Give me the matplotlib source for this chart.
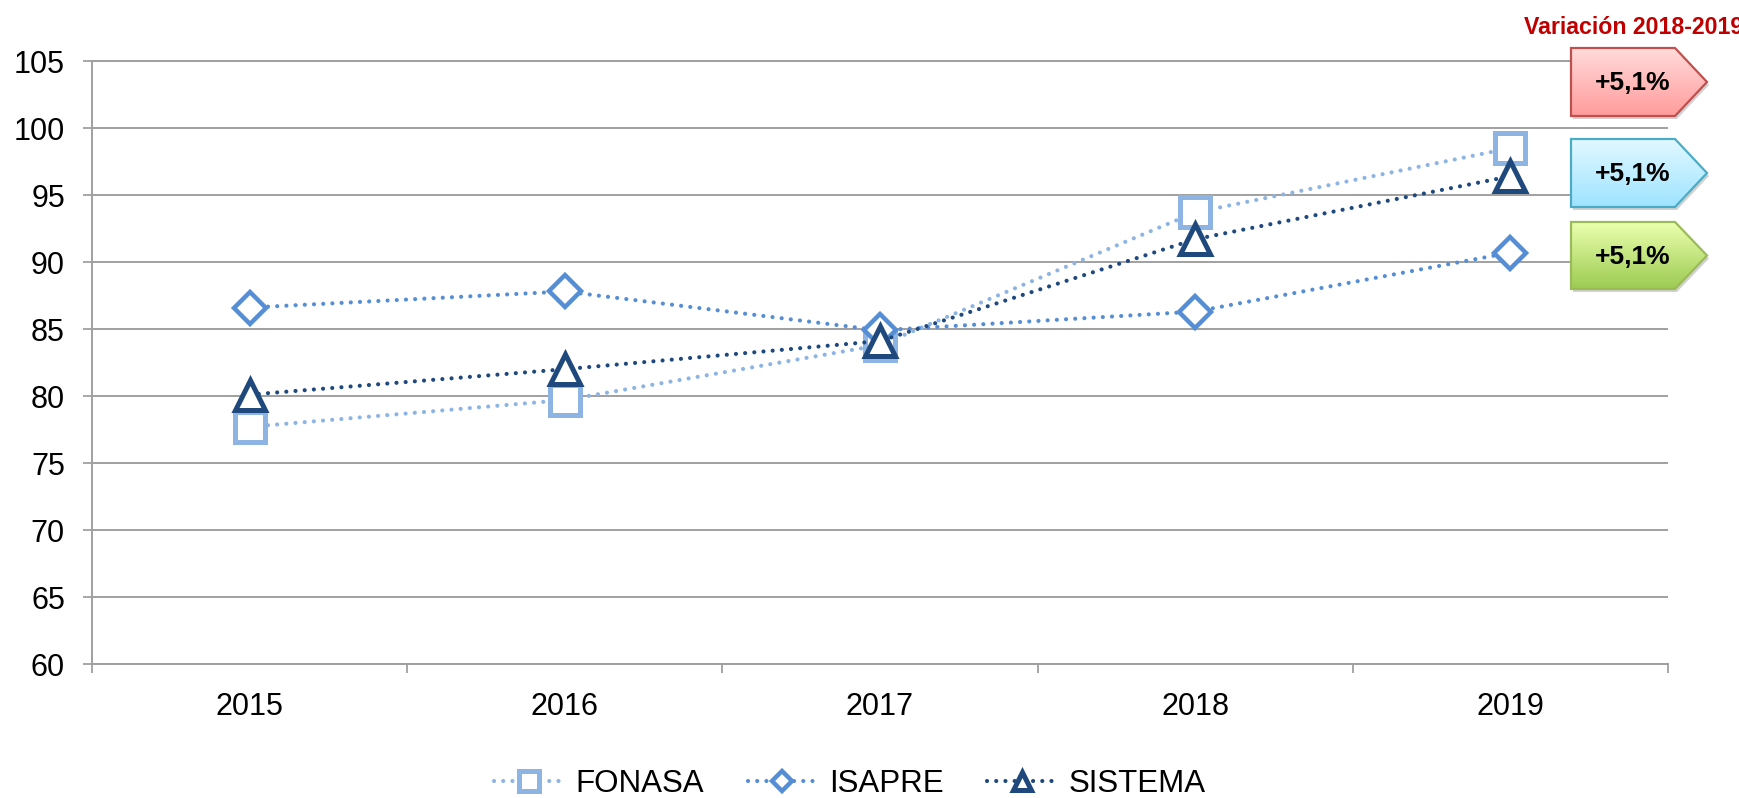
import numpy as np
import matplotlib
matplotlib.use("Agg")
import matplotlib.pyplot as plt
from matplotlib.patches import Polygon
from matplotlib.colors import to_rgb

plt.rcParams['font.family'] = ['Liberation Sans', 'DejaVu Sans']

# Datos
anios = ['2015', '2016', '2017', '2018', '2019']
fonasa = [77.7, 79.7, 83.8, 93.7, 98.5]
isapre = [86.6, 87.8, 84.9, 86.3, 90.7]
sistema = [80.1, 82.0, 84.1, 91.7, 96.4]
variacion = ['+5,1%', '+5,1%', '+5,1%']

W, H = 1740, 798
fig = plt.figure(figsize=(W / 100, H / 100), dpi=100)
ax = fig.add_axes([92 / W, 1 - 664 / H, (1668 - 92) / W, (664 - 61) / H])

x = np.arange(len(anios))
gris = '#A0A0A0'
punteado = (0, (0.01, 2.2))

ax.plot(x, fonasa, color='#8DB4E2', lw=3, linestyle=punteado,
        dash_capstyle='round', marker='s', markersize=22, mew=3.6,
        mfc='white', mec='#8DB4E2', label='FONASA', zorder=3)
ax.plot(x, isapre, color='#558ED5', lw=3, linestyle=punteado,
        dash_capstyle='round', marker='D', markersize=16, mew=3.2,
        mfc='white', mec='#558ED5', label='ISAPRE', zorder=4)
ax.plot(x, sistema, color='#1F497D', lw=3, linestyle=punteado,
        dash_capstyle='round', marker='^', markersize=21, mew=3.6,
        mfc='white', mec='#1F497D', label='SISTEMA', zorder=5)

ax.set_xlim(-0.5, len(anios) - 0.5)
ax.set_ylim(60, 105)
ax.set_yticks(np.arange(60, 106, 5))
ax.set_xticks(x)
ax.set_xticklabels(anios)
ax.set_xticks(np.arange(-0.5, len(anios), 1), minor=True)
ax.tick_params(axis='x', which='major', length=0, pad=20, labelsize=22)
ax.tick_params(axis='x', which='minor', length=6.5, width=1.3, color=gris)
ax.tick_params(axis='y', length=6.5, width=1.3, color=gris, pad=13, labelsize=22)
ax.yaxis.grid(True, color=gris, lw=1.4)
ax.set_axisbelow(True)
for s in ['left', 'bottom', 'top']:
    ax.spines[s].set_color(gris)
    ax.spines[s].set_linewidth(1.4)
ax.spines['right'].set_visible(False)

fig.legend(loc='center', bbox_to_anchor=(850 / W, 1 - 784 / H), ncol=3,
           frameon=False, fontsize=22.5, markerscale=0.65, handlelength=2.2,
           handletextpad=0.4, columnspacing=1.4, borderpad=0.1)

# Flechas de variacion (capa superior en pixeles)
ov = fig.add_axes([0, 0, 1, 1], zorder=10)
ov.set_xlim(0, W)
ov.set_ylim(H, 0)
ov.axis('off')

flechas = [
    ((48, 116), '#FFDADA', '#FF9C9C', '#C0504D'),
    ((139, 207), '#E2F8FF', '#9EE4FF', '#4BACC6'),
    ((222, 289), '#EBFFAE', '#9CCB52', '#9BBB59'),
]
x0, xb, xt = 1571, 1675, 1707
for (y0, y1), ctop, cbot, cedge in flechas:
    ym = (y0 + y1) / 2
    pts = [(x0, y0), (xb, y0), (xt, ym), (xb, y1), (x0, y1)]
    sombra = Polygon([(px + 2, py + 3) for px, py in pts], closed=True,
                     facecolor='black', edgecolor='none', alpha=0.18)
    ov.add_patch(sombra)
    poly = Polygon(pts, closed=True, facecolor='none', edgecolor=cedge, lw=1.6)
    ov.add_patch(poly)
    t = np.linspace(0, 1, 64)[:, None, None]
    grad = (1 - t) * np.array(to_rgb(ctop)) + t * np.array(to_rgb(cbot))
    im = ov.imshow(grad, extent=(x0, xt, y1, y0), origin='upper', aspect='auto', zorder=1)
    im.set_clip_path(poly)
    poly.set_zorder(2)

for ((y0, y1), _, _, _), txt in zip(flechas, variacion):
    ov.text(1633, (y0 + y1) / 2 + 1, txt, ha='center', va='center',
            fontsize=19, fontweight='bold', color='black', zorder=3)

ov.text(1524, 27, 'Variación 2018-2019', ha='left', va='center',
        fontsize=16.7, fontweight='bold', color='#C00000')
ov.set_xlim(0, W)
ov.set_ylim(H, 0)

fig.savefig('out.png', dpi=100)
